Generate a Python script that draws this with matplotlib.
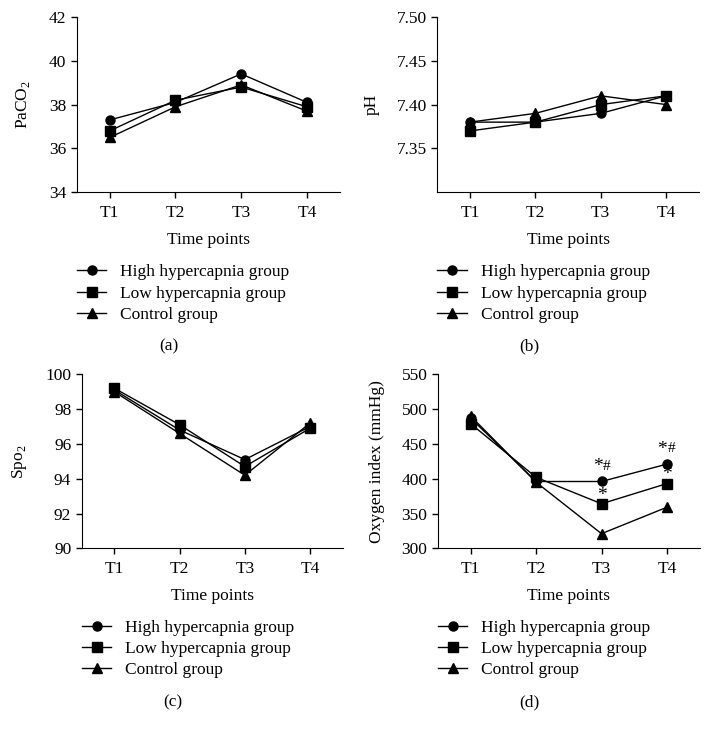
import matplotlib
matplotlib.use("Agg")
import matplotlib.pyplot as plt

plt.rcParams['font.family'] = ['Liberation Serif', 'DejaVu Serif']
plt.rcParams['mathtext.fontset'] = 'custom'
plt.rcParams['mathtext.rm'] = 'Liberation Serif'

time_points = ["T1", "T2", "T3", "T4"]
groups = ["High hypercapnia group", "Low hypercapnia group", "Control group"]
markers = ["o", "s", "^"]

paco2_high = [37.3, 38.1, 39.4, 38.1]
paco2_low = [36.8, 38.2, 38.8, 37.9]
paco2_ctrl = [36.5, 37.9, 38.9, 37.7]

ph_high = [7.38, 7.38, 7.39, 7.41]
ph_low = [7.37, 7.38, 7.40, 7.41]
ph_ctrl = [7.38, 7.39, 7.41, 7.40]

spo2_high = [99.1, 96.8, 95.1, 97.0]
spo2_low = [99.2, 97.1, 94.7, 96.9]
spo2_ctrl = [99.0, 96.6, 94.2, 97.2]

oi_high = [487, 396, 396, 421]
oi_low = [479, 402, 364, 393]
oi_ctrl = [490, 395, 321, 359]

# significance marks in panel (d): (time index, x shift, y value, text)
oi_marks = [(2, -0.06, 417, "*"), (2, 0.0, 376, "*"),
            (3, -0.07, 442, "*"), (3, 0.0, 406, "*")]
oi_hash = [(2, 0.08, 417), (3, 0.07, 444)]

fig = plt.figure(figsize=(7.11, 7.34), dpi=100)

panels = [
    dict(pos=[0.108, 0.738, 0.370, 0.239], data=[paco2_high, paco2_low, paco2_ctrl],
         ylabel="PaCO$_2$", ylim=(34, 42), yticks=[34, 36, 38, 40, 42], fmt="{:.0f}", tag="(a)"),
    dict(pos=[0.615, 0.738, 0.368, 0.239], data=[ph_high, ph_low, ph_ctrl],
         ylabel="pH", ylim=(7.30, 7.50), yticks=[7.35, 7.40, 7.45, 7.50], fmt="{:.2f}", tag="(b)"),
    dict(pos=[0.115, 0.253, 0.367, 0.237], data=[spo2_high, spo2_low, spo2_ctrl],
         ylabel="Spo$_2$", ylim=(90, 100), yticks=[90, 92, 94, 96, 98, 100], fmt="{:.0f}", tag="(c)"),
    dict(pos=[0.616, 0.253, 0.368, 0.237], data=[oi_high, oi_low, oi_ctrl],
         ylabel="Oxygen index (mmHg)", ylim=(300, 550), yticks=[300, 350, 400, 450, 500, 550],
         fmt="{:.0f}", tag="(d)"),
]

x = list(range(len(time_points)))
axes = []
for p in panels:
    ax = fig.add_axes(p["pos"])
    for vals, m, lab in zip(p["data"], markers, groups):
        ax.plot(x, vals, color="black", lw=1.0, marker=m, markersize=6.5, label=lab)
    ax.set_xlim(-0.5, 3.5)
    ax.set_ylim(*p["ylim"])
    ax.set_xticks(x)
    ax.set_xticklabels(time_points)
    ax.set_yticks(p["yticks"])
    ax.set_yticklabels([p["fmt"].format(v) for v in p["yticks"]])
    ax.spines["top"].set_visible(False)
    ax.spines["right"].set_visible(False)
    ax.tick_params(direction="out", length=4, width=1, labelsize=12.5, colors="black")
    ax.tick_params(axis="x", pad=5)
    ax.set_xlabel("Time points", fontsize=12.5, labelpad=8)
    ax.set_ylabel(p["ylabel"], fontsize=12.5, labelpad=12)
    ax.legend(loc="upper left", bbox_to_anchor=(0.0, -0.41), frameon=False,
              fontsize=12.5, handlelength=1.7, handletextpad=0.8, labelspacing=0.3,
              borderaxespad=0, borderpad=0)
    l, b, w, h = p["pos"]
    fig.text(l + w * 0.35, b - 0.21, p["tag"], fontsize=12.5, ha="center", va="center")
    axes.append(ax)

ax_d = axes[3]
for xi, dx, yv, t in oi_marks:
    ax_d.text(xi + dx, yv, t, fontsize=14, ha="center", va="center")
for xi, dx, yv in oi_hash:
    ax_d.text(xi + dx, yv, "#", fontsize=11, ha="center", va="center")

fig.savefig("out.png", dpi=100)
